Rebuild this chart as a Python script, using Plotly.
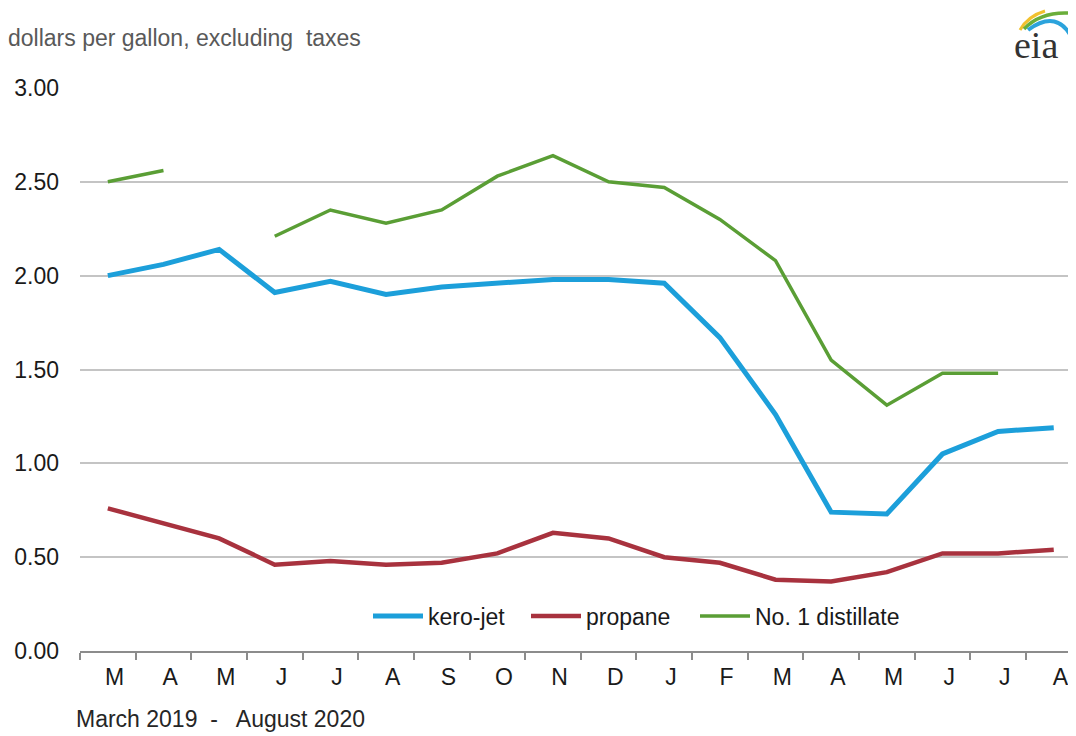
import plotly.graph_objects as go

months = ["M", "A", "M", "J", "J", "A", "S", "O", "N", "D", "J", "F", "M", "A", "M", "J", "J", "A"]
kero_jet = [2.00, 2.06, 2.14, 1.91, 1.97, 1.90, 1.94, 1.96, 1.98, 1.98, 1.96, 1.67, 1.26, 0.74, 0.73, 1.05, 1.17, 1.19]
propane = [0.76, 0.68, 0.60, 0.46, 0.48, 0.46, 0.47, 0.52, 0.63, 0.60, 0.50, 0.47, 0.38, 0.37, 0.42, 0.52, 0.52, 0.54]
distillate = [2.50, 2.56, None, 2.21, 2.35, 2.28, 2.35, 2.53, 2.64, 2.50, 2.47, 2.30, 2.08, 1.55, 1.31, 1.48, 1.48, None]
y_ticks = [0, 0.5, 1.0, 1.5, 2.0, 2.5, 3.0]

OFF = 8  # page body margin
W, H = 1076 - OFF, 736 - OFF
# plot area in reference (screen) pixels
SX0, SX1, SY0, SY1 = 80, 1076, 88, 651
ML, MR, MT = SX0 - OFF, (1076 - OFF) - (SX1 - OFF), SY0 - OFF
MB = H - (SY1 - OFF)
PW, PH = SX1 - SX0, SY1 - SY0
FONT = "Liberation Sans, Arial, sans-serif"

x = list(range(len(months)))


def px2paper(px, py):
    return (px - SX0) / PW, (SY1 - py) / PH


fig = go.Figure()
fig.add_trace(go.Scatter(x=x, y=kero_jet, name="kero-jet", mode="lines",
                         line=dict(color="#1C9FDA", width=5), legend="legend"))
fig.add_trace(go.Scatter(x=x, y=propane, name="propane", mode="lines",
                         line=dict(color="#A8323E", width=4.5), legend="legend2"))
fig.add_trace(go.Scatter(x=x, y=distillate, name="No. 1 distillate", mode="lines",
                         line=dict(color="#5A9E35", width=3.5), connectgaps=False, legend="legend3"))


def qpath(p0, c, p1):
    a = px2paper(*p0)
    b = px2paper(*c)
    d = px2paper(*p1)
    return f"M {a[0]:.5f},{a[1]:.5f} Q {b[0]:.5f},{b[1]:.5f} {d[0]:.5f},{d[1]:.5f}"


shapes = [
    dict(type="path", xref="paper", yref="paper", path=qpath((1020, 30), (1028, 16), (1045, 11)),
         line=dict(color="#F2C12E", width=3)),
    dict(type="path", xref="paper", yref="paper", path=qpath((1024, 29), (1040, 12), (1068, 13)),
         line=dict(color="#6AAE3A", width=3.5)),
    dict(type="path", xref="paper", yref="paper", path=qpath((1028, 30), (1058, 8), (1073, 40)),
         line=dict(color="#2BA3DC", width=4)),
]

ex, ey = px2paper(1036, 45)
annotations = [
    dict(text="dollars per gallon, excluding  taxes", xref="paper", yref="paper",
         x=px2paper(6, 0)[0], y=px2paper(0, 38)[1], xanchor="left", yanchor="middle",
         showarrow=False, font=dict(family=FONT, size=23, color="#595959")),
    dict(text="March 2019  -   August 2020", xref="paper", yref="paper",
         x=px2paper(74, 0)[0], y=px2paper(0, 719)[1], xanchor="left", yanchor="middle",
         showarrow=False, font=dict(family=FONT, size=23, color="#262626")),
    dict(text="eia", xref="paper", yref="paper", x=ex, y=ey, xanchor="center", yanchor="middle",
         showarrow=False, font=dict(family="Liberation Serif, Times New Roman, serif", size=38, color="#333333")),
]

leg_common = dict(orientation="h", xanchor="left", yanchor="middle", bgcolor="rgba(0,0,0,0)",
                  font=dict(family=FONT, size=23, color="#1a1a1a"), itemwidth=50)
ly = px2paper(0, 616)[1]

fig.update_layout(
    width=W, height=H,
    margin=dict(l=ML, r=MR, t=MT, b=MB, pad=0),
    paper_bgcolor="white", plot_bgcolor="white",
    font=dict(family=FONT, size=23, color="#1a1a1a"),
    showlegend=True,
    legend=dict(x=px2paper(368, 0)[0], y=ly, **leg_common),
    legend2=dict(x=px2paper(526, 0)[0], y=ly, **leg_common),
    legend3=dict(x=px2paper(695, 0)[0], y=ly, **leg_common),
    shapes=shapes,
    annotations=annotations,
    xaxis=dict(range=[-0.5, 17.4], tickmode="array",
               tickvals=[i + 0.12 for i in x], ticktext=months,
               ticks="", showgrid=False, zeroline=False,
               showline=True, linecolor="#8C8C8C", linewidth=2,
               ticklabelstandoff=4,
               minor=dict(tick0=-0.5, dtick=1, ticks="outside", ticklen=7,
                          tickcolor="#8C8C8C", tickwidth=2, showgrid=False),
               tickfont=dict(family=FONT, size=23, color="#1a1a1a"), fixedrange=True),
    yaxis=dict(range=[0, 3.0], tickmode="array", tickvals=y_ticks,
               ticktext=[f"{v:.2f}" for v in y_ticks],
               showgrid=True, gridcolor="#C4C4C4", gridwidth=2,
               zeroline=False, showline=False, ticks="",
               ticklabelstandoff=20,
               tickfont=dict(family=FONT, size=23, color="#1a1a1a"), fixedrange=True),
)

fig.write_html("out.html")
